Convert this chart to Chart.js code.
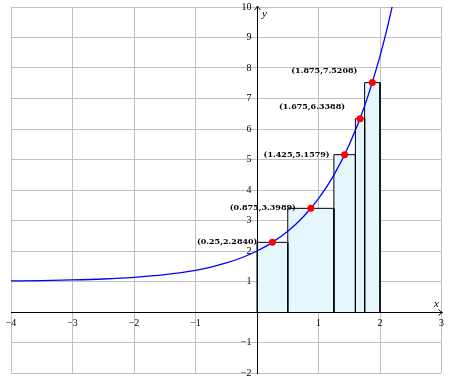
<!DOCTYPE html>
<html>
<head>
<meta charset="utf-8">
<script src="https://cdn.jsdelivr.net/npm/chart.js@4"></script>
<style>
html, body { margin: 0; padding: 0; background: #fff; }
</style>
</head>
<body>
<canvas id="riemannChart" width="449" height="381"></canvas>
<script>
// curve y = 1 + e^x
const curveX = [-4, -3.5, -3, -2.5, -2, -1.5, -1, -0.75, -0.5, -0.25, 0, 0.25, 0.5, 0.75, 1, 1.25, 1.5, 1.75, 2, 2.1, 2.2];
const curveY = [1.018, 1.030, 1.050, 1.082, 1.135, 1.223, 1.368, 1.472, 1.607, 1.779, 2.000, 2.284, 2.649, 3.117, 3.718, 4.490, 5.482, 6.755, 8.389, 9.166, 10.025];

// partition of [0,2] and the sample points (rectangle heights)
const edges = [0, 0.5, 1.25, 1.6, 1.75, 2];
const sampleX = [0.25, 0.875, 1.425, 1.675, 1.875];
const sampleY = [2.2840, 3.3989, 5.1579, 6.3388, 7.5208];

const xRange = [-4, 3];
const yRange = [-2, 10];

// labels of the last two points sit above-left
const labelAbove = [false, false, false, true, true];

function tickText(v) {
    if (v === 0) return '';
    return v < 0 ? '\u2212' + (-v) : String(v);
}

// rectangles: up, across, down (filled down to y = 0)
let rectSets = [];
for (let i = 0; i < sampleY.length; i++) {
    let a = edges[i], b = edges[i + 1], h = sampleY[i];
    rectSets.push({
        data: [{x: a, y: 0}, {x: a, y: h}, {x: b, y: h}, {x: b, y: 0}],
        showLine: true,
        fill: 'origin',
        backgroundColor: 'rgb(229, 246, 252)',
        borderColor: '#000',
        borderWidth: 1,
        pointRadius: 0,
        tension: 0,
        order: 2
    });
}

const axisDeco = {
    id: 'axisDeco',
    afterDatasetsDraw(chart) {
        const ctx = chart.ctx;
        const xs = chart.scales.x, ys = chart.scales.y;
        const area = chart.chartArea;
        const x0 = Math.round(xs.getPixelForValue(0)) + 0.5;
        const y0 = Math.round(ys.getPixelForValue(0)) + 0.5;
        ctx.save();
        ctx.strokeStyle = '#000';
        ctx.lineWidth = 1;
        // axis lines again, over the rectangles
        ctx.beginPath();
        ctx.moveTo(area.left, y0); ctx.lineTo(area.right, y0);
        ctx.moveTo(x0, area.top); ctx.lineTo(x0, area.bottom);
        ctx.stroke();
        // arrow heads
        let xr = xs.getPixelForValue(xRange[1]) + 1, yt = ys.getPixelForValue(yRange[1]) - 1;
        ctx.beginPath();
        ctx.moveTo(xr - 4, y0 - 3); ctx.quadraticCurveTo(xr - 1.5, y0 - 0.5, xr, y0);
        ctx.quadraticCurveTo(xr - 1.5, y0 + 0.5, xr - 4, y0 + 3);
        ctx.moveTo(x0 - 3, yt + 4); ctx.quadraticCurveTo(x0 - 0.5, yt + 1.5, x0, yt);
        ctx.quadraticCurveTo(x0 + 0.5, yt + 1.5, x0 + 3, yt + 4);
        ctx.stroke();
        ctx.fillStyle = '#000';
        // y tick labels, right-aligned left of the axis
        ctx.font = '10px "Liberation Serif"';
        ctx.textAlign = 'right';
        ctx.textBaseline = 'middle';
        for (let v = yRange[0]; v <= yRange[1]; v++) {
            ctx.fillText(tickText(v), x0 - 6, ys.getPixelForValue(v));
        }
        // axis names
        ctx.font = 'italic 11px "Liberation Serif"';
        ctx.textAlign = 'center';
        ctx.fillText('x', xr - 6, y0 - 8);
        ctx.fillText('y', x0 + 7, yt + 8);
        // sample point labels
        ctx.font = 'bold 8px "DejaVu Serif"';
        ctx.textAlign = 'right';
        for (let i = 0; i < sampleX.length; i++) {
            let px = xs.getPixelForValue(sampleX[i]);
            let py = ys.getPixelForValue(sampleY[i]);
            let txt = '(' + sampleX[i] + ',' + sampleY[i].toFixed(4) + ')';
            ctx.fillText(txt, px - 15, labelAbove[i] ? py - 11.5 : py);
        }
        ctx.restore();
    }
};

new Chart(document.getElementById('riemannChart'), {
    type: 'scatter',
    data: {
        datasets: [
            {
                // sample points
                data: sampleX.map((x, i) => ({x: x, y: sampleY[i]})),
                backgroundColor: '#ff0000',
                borderWidth: 0,
                pointRadius: 3.5,
                order: 0
            },
            {
                // f(x)
                data: curveX.map((x, i) => ({x: x, y: curveY[i]})),
                showLine: true,
                borderColor: '#0000ff',
                borderWidth: 1.3,
                pointRadius: 0,
                cubicInterpolationMode: 'monotone',
                fill: false,
                order: 1
            }
        ].concat(rectSets)
    },
    options: {
        responsive: false,
        animation: false,
        devicePixelRatio: 1,
        layout: { padding: { left: 11, right: 7, top: 7, bottom: 8 } },
        plugins: {
            legend: { display: false },
            tooltip: { enabled: false }
        },
        scales: {
            x: {
                type: 'linear',
                min: xRange[0], max: xRange[1],
                position: { y: 0 },
                afterFit: s => { s.height = 0; },
                ticks: {
                    stepSize: 1, padding: 5, autoSkip: false, maxRotation: 0,
                    color: '#000',
                    font: { family: 'Liberation Serif', size: 10 },
                    callback: v => tickText(v)
                },
                grid: { color: '#c0c0c0', drawTicks: false },
                border: { color: '#000', width: 1 }
            },
            y: {
                type: 'linear',
                min: yRange[0], max: yRange[1],
                position: { x: 0 },
                afterFit: s => { s.width = 0; },
                ticks: { stepSize: 1, display: false },
                grid: { color: '#c0c0c0', drawTicks: false },
                border: { color: '#000', width: 1 }
            }
        }
    },
    plugins: [axisDeco]
});
</script>
</body>
</html>
